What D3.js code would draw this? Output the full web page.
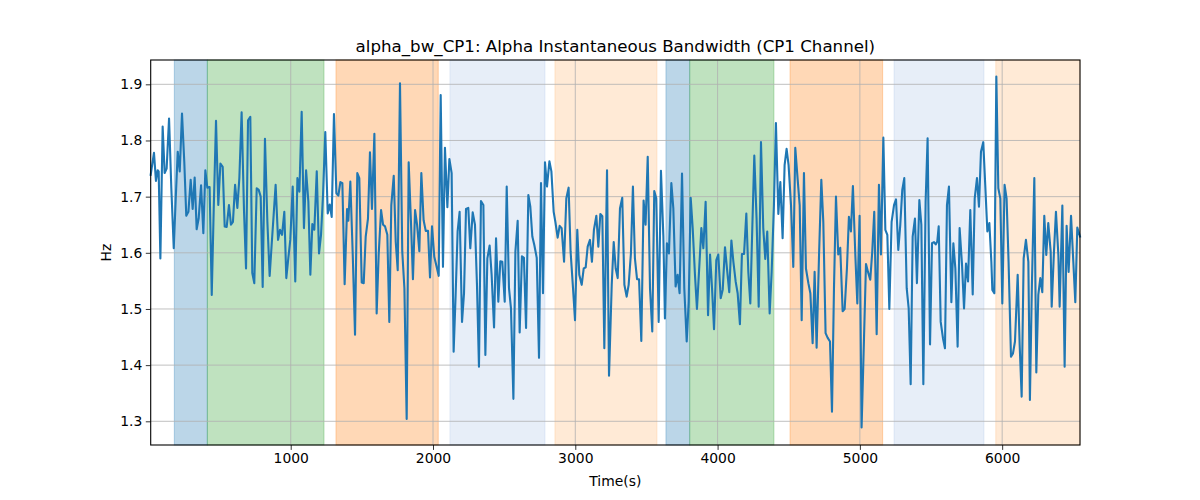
<!DOCTYPE html>
<html>
<head>
<meta charset="utf-8">
<script src="https://cdn.jsdelivr.net/npm/d3@7"></script>
<style>
  html, body { margin: 0; padding: 0; background: #fff; }
  svg { display: block; font-family: "DejaVu Sans", sans-serif; }
</style>
</head>
<body>
<svg id="chart" width="1200" height="500"></svg>
<script>
// ---- data ----
const times = [16,39,53,65,72,84,100,114,128,145,161,178,192,206,220,236,252,266,281,297,311,325,339,353,370,386,400,414,430,445,459,475,491,506,522,536,550,566,580,594,609,625,639,655,672,686,700,716,730,744,761,775,789,803,819,836,852,866,880,894,911,925,939,955,969,983,997,1014,1032,1047,1061,1077,1093,
1108,1124,1138,1152,1166,1183,1199,1213,1227,1243,1260,1274,1288,1304,1321,1335,1349,1363,1379,1396,1405,1419,1436,1452,1468,1482,1499,1513,1527,1543,1557,1571,1588,1604,1618,1635,1649,1663,1679,1693,1707,1724,1738,1752,1768,1784,1799,1815,1829,1845,1859,1874,1888,1904,1918,1934,1949,1965,1979,1993,2009,2023,2040,2054,2070,2084,2101,2115,2131,2145,
2159,2173,2187,2204,2218,2232,2248,2262,2279,2295,2309,2323,2337,2354,2368,2382,2398,2412,2429,2443,2459,2473,2487,2504,2518,2534,2548,2565,2579,2595,2609,2625,2639,2654,2670,2684,2698,2712,2729,2745,2759,2773,2787,2801,2818,2832,2848,2860,2876,2890,2904,2921,2937,2953,2967,2984,2998,3014,3028,3045,3059,3073,3087,3103,3117,3131,3148,3162,3176,3190,3204,
3223,3237,3256,3270,3284,3298,3314,3330,3345,3361,3375,3391,3405,3419,3434,3448,3464,3480,3494,3509,3525,3541,3555,3569,3586,3602,3619,3630,3644,3658,3675,3689,3705,3719,3733,3750,3766,3783,3797,3811,3825,3841,3855,3872,3886,3900,3916,3933,3947,3961,3975,3991,4005,4022,4036,4052,4066,4082,4097,4111,4127,4141,4157,4171,4186,4202,4216,4230,4244,4258,
4274,4289,4305,4321,4335,4349,4366,4380,4396,4410,4427,4441,4457,4471,4485,4499,4516,4532,4546,4563,4577,4591,4607,4621,4638,4652,4668,4682,4696,4713,4729,4743,4759,4773,4790,4804,4818,4832,4848,4862,4879,4893,4909,4923,4937,4951,4968,4982,4998,5012,5029,5043,5057,5073,5087,5101,5118,5134,5148,5165,5179,5193,5207,5223,5240,5254,5270,5284,5298,5312,
5329,5343,5357,5371,5387,5401,5418,5432,5446,5462,5476,5493,5507,5521,5533,5544,5554,5568,5584,5598,5612,5626,5643,5657,5671,5687,5701,5718,5732,5746,5760,5776,5793,5807,5823,5837,5851,5867,5881,5896,5910,5924,5931,5945,5959,5973,5987,6001,6017,6031,6045,6062,6076,6090,6109,6123,6137,6151,6167,6184,6195,6209,6226,6240,6254,6268,6282,6296,6310,6324,6341,6348,6364,6378,6395,6404,6423,6439,6453,6467,6484,6500,6514,6528,6547];

const values = [1.739,1.778,1.728,1.747,1.745,1.59,1.825,1.742,1.75,1.839,1.715,1.608,1.697,1.78,1.745,1.848,1.762,1.666,1.673,1.73,1.678,1.734,1.642,1.661,1.72,1.635,1.747,1.716,1.717,1.525,1.679,1.835,1.685,1.759,1.753,1.647,1.646,1.685,1.65,1.655,1.721,1.68,1.733,1.85,1.673,1.572,1.836,1.842,1.564,1.546,1.715,1.712,1.7,1.539,1.803,1.655,1.559,1.614,1.667,1.721,1.623,1.641,1.632,1.673,1.555,1.59,1.623,1.718,1.549,1.733,1.709,1.851,1.644,
1.747,1.691,1.561,1.651,1.641,1.745,1.599,1.632,1.703,1.815,1.670,1.686,1.664,1.847,1.706,1.702,1.726,1.724,1.544,1.678,1.657,1.727,1.596,1.454,1.742,1.733,1.547,1.546,1.629,1.661,1.779,1.678,1.812,1.492,1.596,1.676,1.65,1.647,1.632,1.477,1.685,1.737,1.62,1.569,1.902,1.602,1.537,1.304,1.761,1.656,1.553,1.676,1.65,1.603,1.742,1.658,1.639,1.639,1.556,1.647,1.593,1.578,1.559,1.881,1.575,1.787,1.681,1.767,1.742,1.424,
1.525,1.638,1.673,1.477,1.528,1.678,1.680,1.608,1.672,1.650,1.543,1.397,1.692,1.685,1.418,1.590,1.613,1.561,1.467,1.626,1.513,1.585,1.584,1.513,1.718,1.537,1.501,1.340,1.602,1.657,1.458,1.594,1.591,1.466,1.703,1.682,1.629,1.614,1.591,1.413,1.724,1.528,1.761,1.718,1.763,1.745,1.673,1.655,1.627,1.648,1.644,1.584,1.697,1.716,1.602,1.537,1.480,1.641,1.561,1.543,1.572,1.574,1.611,1.623,1.584,1.641,1.666,1.611,1.669,1.665,1.430,
1.747,1.381,1.543,1.619,1.572,1.555,1.679,1.698,1.543,1.522,1.543,1.599,1.718,1.590,1.553,1.553,1.443,1.693,1.650,1.771,1.537,1.460,1.710,1.697,1.477,1.746,1.629,1.483,1.617,1.599,1.724,1.679,1.540,1.561,1.528,1.741,1.537,1.442,1.513,1.698,1.644,1.561,1.500,1.578,1.644,1.608,1.691,1.489,1.597,1.537,1.464,1.587,1.597,1.519,1.534,1.610,1.572,1.530,1.622,1.584,1.549,1.528,1.473,1.598,1.598,1.670,1.566,1.510,1.644,1.773,
1.661,1.504,1.797,1.644,1.589,1.638,1.492,1.566,1.685,1.831,1.669,1.726,1.626,1.756,1.785,1.756,1.685,1.575,1.787,1.730,1.685,1.480,1.742,1.572,1.546,1.528,1.439,1.566,1.431,1.596,1.730,1.655,1.457,1.449,1.442,1.317,1.537,1.700,1.597,1.609,1.496,1.500,1.572,1.664,1.638,1.719,1.596,1.510,1.666,1.289,1.448,1.580,1.566,1.552,1.602,1.673,1.455,1.721,1.597,1.805,1.641,1.632,1.500,1.655,1.685,1.695,1.605,1.650,1.712,1.733,
1.537,1.501,1.366,1.629,1.661,1.546,1.694,1.650,1.366,1.691,1.804,1.437,1.617,1.619,1.615,1.620,1.647,1.477,1.448,1.430,1.685,1.718,1.512,1.617,1.572,1.433,1.644,1.578,1.501,1.581,1.549,1.676,1.526,1.697,1.733,1.682,1.780,1.797,1.721,1.638,1.653,1.584,1.534,1.528,1.914,1.715,1.697,1.510,1.721,1.697,1.584,1.415,1.421,1.442,1.561,1.436,1.344,1.590,1.623,1.584,1.338,1.543,1.733,1.387,1.525,1.555,1.530,1.666,1.596,1.653,1.602,1.504,1.602,1.673,1.596,1.504,1.684,1.397,1.648,1.566,1.666,1.584,1.512,1.645,1.629];

const spanStarts = [182, 414, 1318, 2119, 2857, 3637, 3804, 4509, 5240, 5955];
const spanEnds   = [414, 1234, 2037, 2787, 3574, 3804, 4396, 5160, 5872, 6547];
const spanColors = ["#1f77b4", "#2ca02c", "#ff7f0e", "#aec7e8", "#ffbb78", "#1f77b4", "#2ca02c", "#ff7f0e", "#aec7e8", "#ffbb78"];

const xTicks = [1000, 2000, 3000, 4000, 5000, 6000];
const yTicks = [1.3, 1.4, 1.5, 1.6, 1.7, 1.8, 1.9];

const titleText = "alpha_bw_CP1: Alpha Instantaneous Bandwidth (CP1 Channel)";
const xLabelText = "Time(s)";
const yLabelText = "Hz";

// ---- layout ----
const L = 150.7, R = 1080, T = 60, B = 445;
const svg = d3.select("#chart");

const x = d3.scaleLinear().domain([16, 6547]).range([L, R]);
const y = d3.scaleLinear().domain([1.2578, 1.9433]).range([B, T]);

// spans
svg.append("g").selectAll("rect")
  .data(spanStarts.map((s, i) => ({ s, e: spanEnds[i], c: spanColors[i] })))
  .join("rect")
  .attr("x", d => x(d.s))
  .attr("y", T)
  .attr("width", d => x(d.e) - x(d.s))
  .attr("height", B - T)
  .attr("fill", d => d.c)
  .attr("fill-opacity", 0.3)
  .attr("stroke", d => d.c)
  .attr("stroke-opacity", 0.3)
  .attr("stroke-width", 1);

// grid
const grid = svg.append("g").attr("stroke", "#b0b0b0").attr("stroke-width", 0.8);
grid.selectAll(".gx").data(xTicks).join("line")
  .attr("x1", d => x(d)).attr("x2", d => x(d)).attr("y1", T).attr("y2", B);
grid.selectAll(".gy").data(yTicks).join("line")
  .attr("y1", d => y(d)).attr("y2", d => y(d)).attr("x1", L).attr("x2", R);

// line
const line = d3.line().x((d, i) => x(times[i])).y(d => y(d));
svg.append("path")
  .datum(values)
  .attr("fill", "none")
  .attr("stroke", "#1f77b4")
  .attr("stroke-width", 2.1)
  .attr("stroke-linejoin", "round")
  .attr("stroke-linecap", "square")
  .attr("d", line);

// axes
const xAxis = d3.axisBottom(x).tickValues(xTicks).tickFormat(d3.format("d")).tickSize(4.9).tickPadding(3.5);
const yAxis = d3.axisLeft(y).tickValues(yTicks).tickFormat(d3.format(".1f")).tickSize(4.9).tickPadding(3.5);

const gx = svg.append("g").attr("transform", `translate(0,${B})`).call(xAxis);
const gy = svg.append("g").attr("transform", `translate(${L},0)`).call(yAxis);
[gx, gy].forEach(g => {
  g.select(".domain").remove();
  g.selectAll(".tick line").attr("stroke", "#000").attr("stroke-width", 0.8);
  g.selectAll(".tick text").attr("fill", "#000").style("font-size", "13.9px").style("font-family", "DejaVu Sans, sans-serif");
});

// frame
svg.append("rect")
  .attr("x", L).attr("y", T).attr("width", R - L).attr("height", B - T)
  .attr("fill", "none").attr("stroke", "#000").attr("stroke-width", 1.1);

// title & labels
svg.append("text")
  .attr("x", (L + R) / 2).attr("y", 52)
  .attr("text-anchor", "middle")
  .style("font-size", "16.67px")
  .text(titleText);

svg.append("text")
  .attr("x", (L + R) / 2).attr("y", 486)
  .attr("text-anchor", "middle")
  .style("font-size", "13.9px")
  .text(xLabelText);

svg.append("text")
  .attr("transform", `translate(111,${(T + B) / 2}) rotate(-90)`)
  .attr("text-anchor", "middle")
  .style("font-size", "13.9px")
  .text(yLabelText);
</script>
</body>
</html>
